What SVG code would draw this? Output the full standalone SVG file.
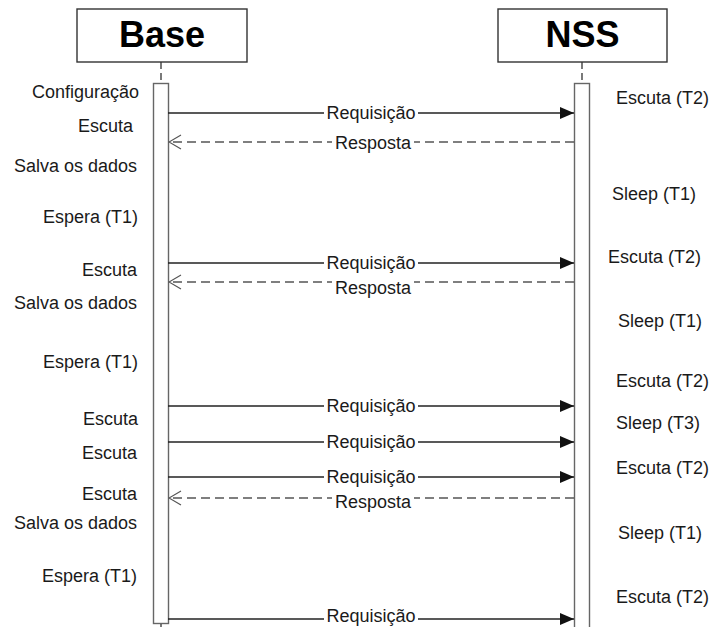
<svg xmlns="http://www.w3.org/2000/svg" width="715" height="627" viewBox="0 0 715 627">
  <defs>
    <style>
      .box { fill: #ffffff; stroke: #333333; stroke-width: 1.4; }
      .bar { fill: #ffffff; stroke: #666666; stroke-width: 1.4; }
      .life { stroke: #333333; stroke-width: 1.3; stroke-dasharray: 7 4; fill: none; }
      .title { font-family: "Liberation Sans", Arial, sans-serif; font-weight: bold; font-size: 36px; fill: #000000; text-anchor: middle; }
      .lbl { font-family: "Liberation Sans", Arial, sans-serif; font-size: 18px; fill: #1a1a1a; }
      .end { text-anchor: end; }
      .mid { text-anchor: middle; }
      .req { stroke: #222222; stroke-width: 1.3; fill: none; }
      .resp { stroke: #555555; stroke-width: 1.3; stroke-dasharray: 9 5; fill: none; }
      .head { fill: #111111; }
      .open { stroke: #555555; stroke-width: 1.2; fill: none; }
      .bg { fill: #ffffff; }
    </style>
    <marker id="filled" markerWidth="14" markerHeight="12" refX="14" refY="6" orient="auto" markerUnits="userSpaceOnUse">
      <path class="head" d="M0,0 L14,6 L0,12 Z"/>
    </marker>
    <marker id="chevron" markerWidth="14" markerHeight="16" refX="13" refY="8" orient="auto" markerUnits="userSpaceOnUse">
      <path class="open" d="M1,1 L13,8 L1,15"/>
    </marker>
  </defs>

  <rect width="715" height="627" fill="#ffffff"/>

  <!-- participant: Base -->
  <g id="base">
    <rect class="box" x="77" y="9" width="170" height="53"/>
    <text class="title" x="162" y="47">Base</text>
    <line class="life" x1="161" y1="62" x2="161" y2="83"/>
    <rect class="bar" x="153.5" y="83.5" width="15" height="540"/>
    <line class="life" x1="161" y1="624" x2="161" y2="630"/>
    <g class="lbl end">
      <text x="139" y="98">Configuração</text>
      <text x="133" y="132">Escuta</text>
      <text x="137" y="172">Salva os dados</text>
      <text x="138" y="223">Espera (T1)</text>
      <text x="137" y="276">Escuta</text>
      <text x="137" y="309">Salva os dados</text>
      <text x="138" y="368">Espera (T1)</text>
      <text x="138" y="425">Escuta</text>
      <text x="137" y="459">Escuta</text>
      <text x="137" y="500">Escuta</text>
      <text x="137" y="529">Salva os dados</text>
      <text x="137" y="582">Espera (T1)</text>
    </g>
  </g>

  <!-- participant: NSS -->
  <g id="nss">
    <rect class="box" x="498" y="9" width="169" height="53"/>
    <text class="title" x="582.5" y="47">NSS</text>
    <line class="life" x1="582" y1="62" x2="582" y2="83"/>
    <rect class="bar" x="574.5" y="83.5" width="15" height="560"/>
    <g class="lbl">
      <text x="616" y="104">Escuta (T2)</text>
      <text x="612" y="200">Sleep (T1)</text>
      <text x="608" y="263">Escuta (T2)</text>
      <text x="618" y="327">Sleep (T1)</text>
      <text x="616" y="387">Escuta (T2)</text>
      <text x="616" y="429">Sleep (T3)</text>
      <text x="616" y="474">Escuta (T2)</text>
      <text x="618" y="539">Sleep (T1)</text>
      <text x="616" y="603">Escuta (T2)</text>
    </g>
  </g>

  <!-- messages between Base and NSS -->
  <g id="connectors">
    <line class="req" x1="168" y1="113" x2="574" y2="113" marker-end="url(#filled)"/>
    <rect class="bg" x="324" y="103" width="94" height="20"/>
    <text class="lbl mid" x="371" y="119">Requisição</text>

    <line class="resp" x1="574" y1="142" x2="169" y2="142" marker-end="url(#chevron)"/>
    <rect class="bg" x="332" y="134" width="82" height="20"/>
    <text class="lbl mid" x="373" y="149">Resposta</text>

    <line class="req" x1="168" y1="263" x2="574" y2="263" marker-end="url(#filled)"/>
    <rect class="bg" x="324" y="253" width="94" height="20"/>
    <text class="lbl mid" x="371" y="269">Requisição</text>

    <line class="resp" x1="574" y1="282" x2="169" y2="282" marker-end="url(#chevron)"/>
    <rect class="bg" x="332" y="276" width="82" height="20"/>
    <text class="lbl mid" x="373" y="294">Resposta</text>

    <line class="req" x1="168" y1="406" x2="574" y2="406" marker-end="url(#filled)"/>
    <rect class="bg" x="324" y="396" width="94" height="20"/>
    <text class="lbl mid" x="371" y="412">Requisição</text>

    <line class="req" x1="168" y1="442" x2="574" y2="442" marker-end="url(#filled)"/>
    <rect class="bg" x="324" y="432" width="94" height="20"/>
    <text class="lbl mid" x="371" y="448">Requisição</text>

    <line class="req" x1="168" y1="477" x2="574" y2="477" marker-end="url(#filled)"/>
    <rect class="bg" x="324" y="467" width="94" height="20"/>
    <text class="lbl mid" x="371" y="483">Requisição</text>

    <line class="resp" x1="574" y1="498" x2="169" y2="498" marker-end="url(#chevron)"/>
    <rect class="bg" x="332" y="491" width="82" height="20"/>
    <text class="lbl mid" x="373" y="508">Resposta</text>

    <line class="req" x1="168" y1="619" x2="574" y2="619" marker-end="url(#filled)"/>
    <rect class="bg" x="324" y="609" width="94" height="18"/>
    <text class="lbl mid" x="371" y="622">Requisição</text>
  </g>
</svg>
